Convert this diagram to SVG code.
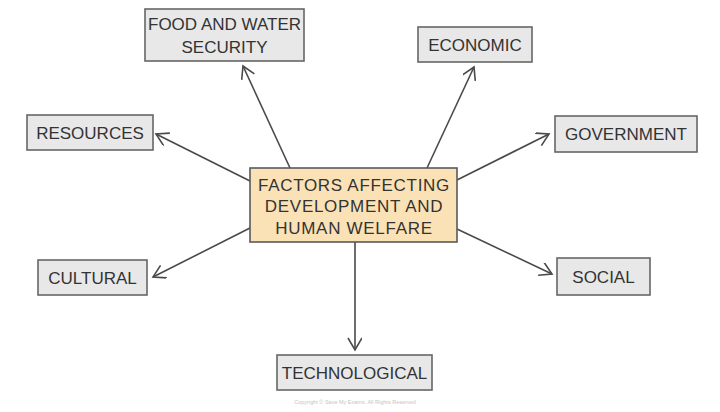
<svg xmlns="http://www.w3.org/2000/svg" width="720" height="412" viewBox="0 0 720 412">
<style>
.box{fill:#e8e8e8;stroke:#666;stroke-width:1.6}
.center{fill:#fbe2b6;stroke:#5a5a5a;stroke-width:1.6}
text{font-family:"Liberation Sans",Arial,sans-serif;font-size:17px;fill:#333;text-anchor:middle}
.ct{letter-spacing:0.7px}
.conn{stroke:#4a4a4a;stroke-width:1.6;fill:none;marker-end:url(#ah)}
.copy{font-size:5.5px;fill:#c4c4c4}
</style>
<defs>
<marker id="ah" markerUnits="userSpaceOnUse" markerWidth="20" markerHeight="20" refX="13" refY="7" orient="auto">
<path d="M1,0 L13,7 L1,14" fill="none" stroke="#4a4a4a" stroke-width="1.6"/>
</marker>
</defs>
<rect width="720" height="412" fill="#fff"/>
<g id="connectors">
<line class="conn" x1="290" y1="168" x2="243" y2="66"/>
<line class="conn" x1="427" y1="168" x2="474" y2="67"/>
<line class="conn" x1="250" y1="181" x2="156" y2="134"/>
<line class="conn" x1="457" y1="180" x2="549" y2="134"/>
<line class="conn" x1="250" y1="228" x2="153" y2="277"/>
<line class="conn" x1="457" y1="229" x2="552" y2="274"/>
<line class="conn" x1="355" y1="242" x2="355" y2="350"/>
</g>
<g id="center">
<rect class="center" x="250" y="168" width="207" height="74"/>
<text class="ct" x="354" y="191">FACTORS AFFECTING</text>
<text class="ct" x="354" y="212">DEVELOPMENT AND</text>
<text class="ct" x="354" y="234">HUMAN WELFARE</text>
</g>
<g id="food">
<rect class="box" x="145" y="9" width="159" height="52"/>
<text x="224.5" y="30">FOOD AND WATER</text>
<text x="224.5" y="53">SECURITY</text>
</g>
<g id="economic">
<rect class="box" x="418" y="27" width="114" height="35"/>
<text x="475" y="51">ECONOMIC</text>
</g>
<g id="resources">
<rect class="box" x="27" y="115" width="126" height="35"/>
<text x="90" y="139">RESOURCES</text>
</g>
<g id="government">
<rect class="box" x="555" y="116" width="142" height="36"/>
<text x="626" y="140">GOVERNMENT</text>
</g>
<g id="cultural">
<rect class="box" x="38" y="260" width="109" height="35"/>
<text x="92.5" y="284">CULTURAL</text>
</g>
<g id="social">
<rect class="box" x="557" y="258" width="93" height="37"/>
<text x="603.5" y="283">SOCIAL</text>
</g>
<g id="technological">
<rect class="box" x="277" y="355" width="155" height="35"/>
<text x="354.5" y="379">TECHNOLOGICAL</text>
</g>
<text class="copy" x="355" y="404">Copyright © Save My Exams. All Rights Reserved</text>
</svg>
